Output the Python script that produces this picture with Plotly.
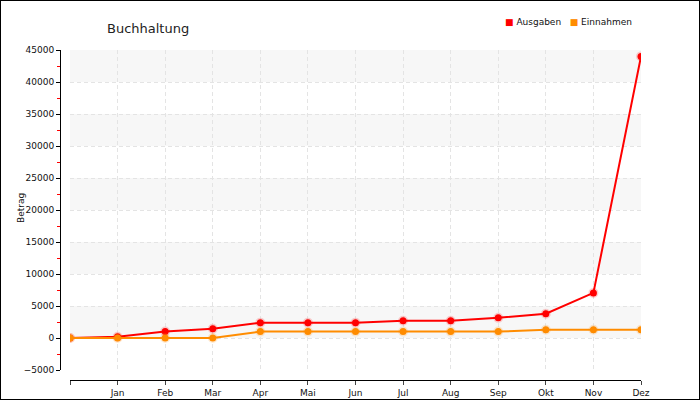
import plotly.graph_objects as go

# Daten
monate = ["", "Jan", "Feb", "Mar", "Apr", "Mai", "Jun", "Jul", "Aug", "Sep", "Okt", "Nov", "Dez"]
ausgaben = [0, 200, 1000, 1450, 2400, 2400, 2400, 2700, 2700, 3150, 3800, 7050, 44000]
einnahmen = [0, 0, 0, 0, 1000, 1000, 1000, 1000, 1000, 1000, 1300, 1300, 1300]

serien = [
    ("Ausgaben", ausgaben, "#ff0000", "rgba(255,0,0,0.18)"),
    ("Einnahmen", einnahmen, "#ff8c00", "rgba(255,140,0,0.18)"),
]

W, H = 700, 400
FONT = "DejaVu Sans"
x_pos = list(range(len(monate)))

fig = go.Figure()

for name, werte, farbe, halo in serien:
    fig.add_trace(go.Scatter(
        x=x_pos, y=werte, mode="lines+markers", name=name, showlegend=False,
        line=dict(color=farbe, width=2),
        marker=dict(color=farbe, size=7, line=dict(color=halo, width=3)),
    ))

# Legende oben rechts (Quadrat + Text, eng wie im Original)
legende = "\u00a0\u00a0\u00a0".join(
    f"<span style='color:{farbe}'>■</span>\u00a0{name}" for name, _, farbe, _ in serien
)
fig.add_annotation(text=legende, xref="paper", yref="paper", x=634 / W, y=1 - 22 / H,
                   xanchor="right", yanchor="middle", showarrow=False,
                   font=dict(family=FONT, size=9, color="#111"))

# Achsentitel links
fig.add_annotation(text="Betrag", xref="paper", yref="paper", x=21 / W, y=1 - 208 / H,
                   textangle=-90, showarrow=False, xanchor="center", yanchor="middle",
                   font=dict(family=FONT, size=9, color="#111"))

# abwechselnde Hintergrundbänder
for start in range(0, 45000, 10000):
    fig.add_shape(type="rect", xref="x domain", yref="y", x0=0, x1=1,
                  y0=start, y1=start + 5000, fillcolor="#f7f7f7",
                  line=dict(width=0), layer="below")

# Rahmen
fig.add_shape(type="rect", xref="paper", yref="paper", x0=0, x1=1, y0=0, y1=1,
              line=dict(color="black", width=2))

fig.update_layout(
    template="none",
    width=W, height=H,
    margin=dict(l=0, r=0, t=0, b=0, pad=0),
    paper_bgcolor="white", plot_bgcolor="white",
    font=dict(family=FONT, size=9, color="#111"),
    title=dict(text="Buchhaltung", x=107 / W, xanchor="left", y=1 - 28 / H, yanchor="middle",
               font=dict(family=FONT, size=13, color="#222")),
    showlegend=False,
    xaxis=dict(
        domain=[70 / W, 641 / W], anchor="free", position=20 / H, automargin=False,
        range=[0, 12], tickvals=x_pos, ticktext=monate,
        showline=True, linecolor="black", linewidth=1,
        ticks="outside", ticklen=4, tickcolor="#444",
        showgrid=True, gridcolor="#e4e4e4", griddash="4px,3px", gridwidth=1,
        zeroline=False,
    ),
    yaxis=dict(
        domain=[30 / H, 350 / H], anchor="free", position=60 / W, automargin=False,
        range=[-5000, 45000], dtick=5000, tick0=0, tickformat="d",
        showline=True, linecolor="black", linewidth=1,
        ticks="outside", ticklen=4, tickcolor="black",
        minor=dict(ticks="outside", ticklen=3, tickcolor="red", dtick=5000, tick0=2500,
                   showgrid=False),
        showgrid=True, gridcolor="#e4e4e4", griddash="4px,3px", gridwidth=1,
        zeroline=False,
    ),
)

fig.write_html(
    "out.html",
    config={"displayModeBar": False},
    post_script=(
        "document.body.style.margin='0';"
        "document.body.style.overflow='hidden';"
        "document.documentElement.style.overflow='hidden';"
    ),
)
